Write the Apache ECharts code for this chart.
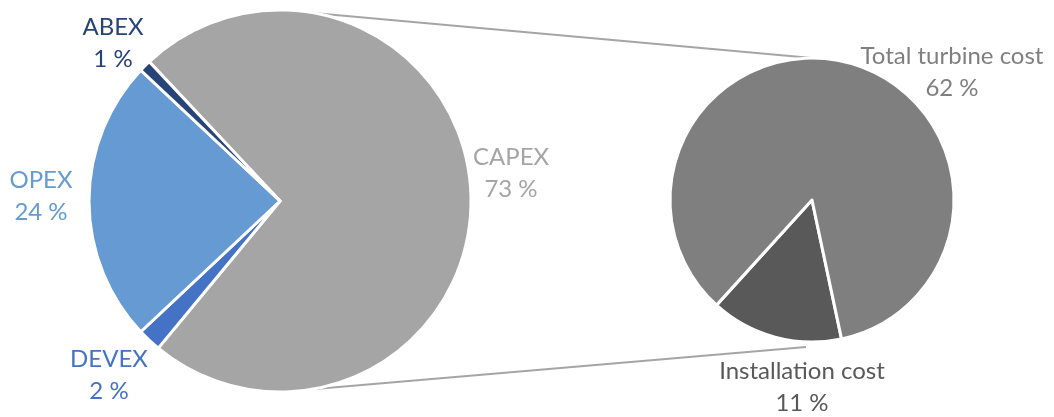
<!DOCTYPE html>
<html>
<head>
<meta charset="utf-8">
<script src="https://cdn.jsdelivr.net/npm/echarts@6/dist/echarts.min.js"></script>
<style>
  html, body { margin: 0; padding: 0; background: #fff; }
  #chart { width: 1054px; height: 417px; }
</style>
</head>
<body>
<div id="chart"></div>
<script>
// Lifetime cost split (left) and the CAPEX breakdown (right)
const costCategories = ['CAPEX', 'DEVEX', 'OPEX', 'ABEX'];
const costShares = [73, 2, 24, 1];
const capexParts = ['Installation cost', 'Total turbine cost'];
const capexShares = [11, 62];

const costColors = ['#A5A5A5', '#4472C4', '#659BD2', '#264478'];
const capexColors = ['#595959', '#7F7F7F'];

// pie geometry
const leftCenter = [280, 201], leftRadius = 191;
const rightCenter = [812, 200], rightRadius = 142;

// label anchors (centre of each two-line label)
const labelSpots = {
  'CAPEX': [511, 173],
  'DEVEX': [109, 375],
  'OPEX': [41, 196],
  'ABEX': [113, 43],
  'Installation cost': [802, 387],
  'Total turbine cost': [952, 72]
};

const FONT = 'Lato, "Open Sans", sans-serif';

function pieData(names, values, colors) {
  return names.map((n, i) => ({
    name: n,
    value: values[i],
    itemStyle: { color: colors[i] },
    label: { color: colors[i] }
  }));
}

const chart = echarts.init(document.getElementById('chart'), null, { renderer: 'canvas' });

const labelCommon = {
  show: true,
  position: 'outside',
  formatter: p => p.name + '\n' + p.value + ' %',
  fontFamily: FONT,
  fontSize: 24,
  lineHeight: 32,
  align: 'center',
  overflow: 'none',
  width: 300
};

function layoutLabel(params) {
  const spot = labelSpots[params.text.split('\n')[0]];
  if (!spot) return {};
  return { x: spot[0], y: spot[1], align: 'center', verticalAlign: 'middle' };
}

// connector lines from the top and bottom of the large pie to the small pie
const connectors = [
  [[leftCenter[0], leftCenter[1] - leftRadius], [rightCenter[0], rightCenter[1] - rightRadius]],
  [[leftCenter[0], leftCenter[1] + leftRadius], [rightCenter[0] - 6, rightCenter[1] + rightRadius + 5]]
];

chart.setOption({
  backgroundColor: '#ffffff',
  animation: false,
  graphic: connectors.map(c => ({
    type: 'line',
    z: -1,
    shape: { x1: c[0][0], y1: c[0][1], x2: c[1][0], y2: c[1][1] },
    style: { stroke: '#A5A5A5', lineWidth: 2 }
  })),
  series: [
    {
      type: 'pie',
      center: leftCenter,
      radius: [0, leftRadius],
      startAngle: 133.2,
      clockwise: true,
      data: pieData(costCategories, costShares, costColors),
      itemStyle: { borderColor: '#ffffff', borderWidth: 3 },
      label: labelCommon,
      labelLine: { show: false },
      labelLayout: layoutLabel,
      emphasis: { disabled: true }
    },
    {
      type: 'pie',
      center: rightCenter,
      radius: [0, rightRadius],
      startAngle: 282,
      clockwise: true,
      data: pieData(capexParts, capexShares, capexColors),
      itemStyle: { borderColor: '#ffffff', borderWidth: 3 },
      label: labelCommon,
      labelLine: { show: false },
      labelLayout: layoutLabel,
      emphasis: { disabled: true }
    }
  ]
});
</script>
</body>
</html>
